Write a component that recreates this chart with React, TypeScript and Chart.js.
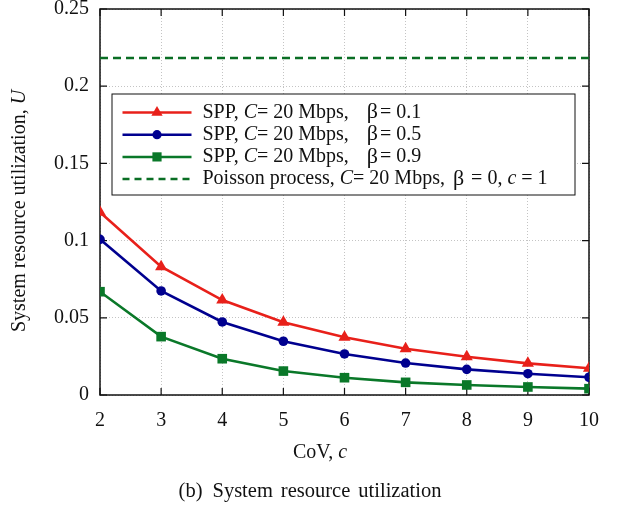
import React, { useEffect, useRef } from 'react';
import { Chart, registerables } from 'chart.js';

Chart.register(...registerables);

// ---------- data ----------
const covValues = [2, 3, 4, 5, 6, 7, 8, 9, 10];
const sppBeta01 = [0.1183, 0.0831, 0.0615, 0.0471, 0.0374, 0.03, 0.0248, 0.0205, 0.0173];
const sppBeta05 = [0.1008, 0.0674, 0.0473, 0.0348, 0.0266, 0.0207, 0.0166, 0.0138, 0.0115];
const sppBeta09 = [0.0669, 0.0378, 0.0235, 0.0155, 0.0112, 0.0082, 0.0065, 0.0052, 0.0041];
const poissonValue = 0.2183;
const xTickValues = [2, 3, 4, 5, 6, 7, 8, 9, 10];
const yTickValues = [0, 0.05, 0.1, 0.15, 0.2, 0.25];
const yTickLabels = ['0', '0.05', '0.1', '0.15', '0.2', '0.25'];
const captionWords = ['(b)', 'System', 'resource', 'utilization'];

const seriesLabels = [
  { pre: 'SPP, ', post: '= 20 Mbps,', beta: '= 0.1', tail: '', gap: 18 },
  { pre: 'SPP, ', post: '= 20 Mbps,', beta: '= 0.5', tail: '', gap: 18 },
  { pre: 'SPP, ', post: '= 20 Mbps,', beta: '= 0.9', tail: '', gap: 18 },
  { pre: 'Poisson process, ', post: '= 20 Mbps,', beta: ' = 0, ', tail: 'c', gap: 8 },
];

const RED = '#e8201a';
const BLUE = '#00008f';
const GREEN = '#0a7829';
const DGREEN = '#0a6e24';
const FONT = '"Liberation Serif", "Times New Roman", serif';
const FS = 20;

type Seg = [string, boolean];

function segWidth(ctx: CanvasRenderingContext2D, segs: Seg[], size: number) {
  let w = 0;
  for (const [t, it] of segs) {
    ctx.font = `${it ? 'italic ' : ''}${size}px ${FONT}`;
    w += ctx.measureText(t).width;
  }
  return w;
}

function drawRich(ctx: CanvasRenderingContext2D, segs: Seg[], x: number, y: number, size: number, center: boolean) {
  let cx = center ? x - segWidth(ctx, segs, size) / 2 : x;
  ctx.textAlign = 'left';
  ctx.textBaseline = 'middle';
  ctx.fillStyle = '#111';
  for (const [t, it] of segs) {
    ctx.font = `${it ? 'italic ' : ''}${size}px ${FONT}`;
    ctx.fillText(t, cx, y);
    cx += ctx.measureText(t).width;
  }
  return cx;
}

function drawMarker(ctx: CanvasRenderingContext2D, style: string, x: number, y: number, color: string) {
  ctx.fillStyle = color;
  ctx.beginPath();
  if (style === 'triangle') {
    const r = 6.5;
    ctx.moveTo(x, y - r);
    ctx.lineTo(x + r * 0.866, y + r * 0.5);
    ctx.lineTo(x - r * 0.866, y + r * 0.5);
    ctx.closePath();
  } else if (style === 'circle') {
    ctx.arc(x, y, 4.6, 0, Math.PI * 2);
  } else if (style === 'rect') {
    ctx.rect(x - 4.6, y - 4.6, 9.2, 9.2);
  }
  ctx.fill();
}

const framePlugin = {
  id: 'frame',
  beforeDatasetsDraw(chart: any) {
    const { ctx, chartArea: a, scales } = chart;
    ctx.save();
    ctx.strokeStyle = '#111';
    ctx.lineWidth = 1.5;
    ctx.strokeRect(a.left, a.top, a.right - a.left, a.bottom - a.top);
    ctx.lineWidth = 1.2;
    const tl = 7;
    ctx.beginPath();
    for (const v of xTickValues) {
      const px = scales.x.getPixelForValue(v);
      ctx.moveTo(px, a.bottom);
      ctx.lineTo(px, a.bottom - tl);
      ctx.moveTo(px, a.top);
      ctx.lineTo(px, a.top + tl);
    }
    for (const v of yTickValues) {
      const py = scales.y.getPixelForValue(v);
      ctx.moveTo(a.left, py);
      ctx.lineTo(a.left + tl, py);
      ctx.moveTo(a.right, py);
      ctx.lineTo(a.right - tl, py);
    }
    ctx.stroke();
    ctx.restore();
  },
  afterDatasetsDraw(chart: any) {
    const { ctx, chartArea: a } = chart;
    ctx.save();
    // legend box
    const bx = a.left + 12;
    const by = a.top + 85;
    const bw = 463;
    const bh = 101;
    ctx.fillStyle = '#fff';
    ctx.fillRect(bx, by, bw, bh);
    ctx.strokeStyle = '#111';
    ctx.lineWidth = 1;
    ctx.strokeRect(bx, by, bw, bh);
    const styles = ['triangle', 'circle', 'rect', ''];
    const colors = [RED, BLUE, GREEN, DGREEN];
    seriesLabels.forEach((s, i) => {
      const y = by + 18.5 + i * 22.2;
      const x0 = bx + 10.5;
      const x1 = bx + 79.5;
      ctx.strokeStyle = colors[i];
      ctx.lineWidth = 2.5;
      if (i === 3) ctx.setLineDash([7, 5]);
      ctx.beginPath();
      ctx.moveTo(x0, y);
      ctx.lineTo(x1, y);
      ctx.stroke();
      ctx.setLineDash([]);
      if (styles[i]) drawMarker(ctx, styles[i], (x0 + x1) / 2, y, colors[i]);
      let cx = drawRich(ctx, [[s.pre, false], ['C', true], [s.post, false]], bx + 90.5, y, FS, false);
      cx += s.gap;
      cx = drawRich(ctx, [['\u03b2', false]], cx, y, FS + 2, false);
      cx += 2;
      const segs: Seg[] = [[s.beta, false]];
      if (s.tail) {
        segs.push([s.tail, true]);
        segs.push([' = 1', false]);
      }
      drawRich(ctx, segs, cx, y, FS, false);
    });
    ctx.restore();
  },
  afterDraw(chart: any) {
    const { ctx, chartArea: a } = chart;
    ctx.save();
    // y title
    ctx.translate(20, (a.top + a.bottom) / 2 + 9);
    ctx.rotate(-Math.PI / 2);
    drawRich(ctx, [['System resource utilization, ', false], ['U', true]], 0, 0, FS, true);
    ctx.restore();
    ctx.save();
    drawRich(ctx, [['CoV, ', false], ['c', true]], 320, a.bottom + 58, FS, true);
    // caption with wide word spacing
    const gap = 8;
    const cs = 20.5;
    ctx.font = `${cs}px ${FONT}`;
    const ws = captionWords.map((w) => ctx.measureText(w).width);
    const total = ws.reduce((p, q) => p + q, 0) + gap * (captionWords.length - 1);
    let cx = 309 - total / 2;
    captionWords.forEach((w, i) => {
      drawRich(ctx, [[w, false]], cx, a.bottom + 97, cs, false);
      cx += ws[i] + gap + (i === 0 ? 2 : 0);
    });
    ctx.restore();
  },
};

export default function App() {
  const ref = useRef<HTMLCanvasElement | null>(null);
  useEffect(() => {
    if (!ref.current) return;
    const mk = (vals: number[]) => vals.map((y, i) => ({ x: covValues[i], y }));
    const chart = new Chart(ref.current, {
      type: 'line',
      data: {
        datasets: [
          {
            label: 'SPP, C= 20 Mbps, β = 0.1',
            data: mk(sppBeta01),
            borderColor: RED,
            backgroundColor: RED,
            borderWidth: 2.6,
            pointStyle: 'triangle',
            pointRadius: 7,
            pointBorderWidth: 0,
          },
          {
            label: 'SPP, C= 20 Mbps, β = 0.5',
            data: mk(sppBeta05),
            borderColor: BLUE,
            backgroundColor: BLUE,
            borderWidth: 2.6,
            pointStyle: 'circle',
            pointRadius: 4.8,
            pointBorderWidth: 0,
          },
          {
            label: 'SPP, C= 20 Mbps, β = 0.9',
            data: mk(sppBeta09),
            borderColor: GREEN,
            backgroundColor: GREEN,
            borderWidth: 2.6,
            pointStyle: 'rect',
            pointRadius: 6.8,
            pointBorderWidth: 0,
          },
          {
            label: 'Poisson process, C= 20 Mbps, β = 0, c = 1',
            data: [
              { x: covValues[0], y: poissonValue },
              { x: covValues[covValues.length - 1], y: poissonValue },
            ],
            borderColor: DGREEN,
            backgroundColor: DGREEN,
            borderWidth: 2.6,
            borderDash: [8, 5],
            pointRadius: 0,
          },
        ],
      },
      options: {
        responsive: false,
        animation: false,
        devicePixelRatio: 1,
        layout: { padding: { left: 0, right: 29, top: 9, bottom: 0 } },
        plugins: { legend: { display: false }, tooltip: { enabled: false } },
        elements: { line: { tension: 0 } },
        scales: {
          x: {
            type: 'linear',
            min: 2,
            max: 10,
            afterBuildTicks: (s: any) => {
              s.ticks = xTickValues.map((v) => ({ value: v }));
            },
            afterFit: (s: any) => {
              s.height = 112;
              s.paddingLeft = 0;
              s.paddingRight = 0;
            },
            ticks: {
              color: '#111',
              font: { family: FONT, size: FS },
              padding: 14,
              callback: (v: any) => String(v),
              maxRotation: 0,
            },
            grid: { color: '#c4c4c4', lineWidth: 1, drawTicks: false },
            border: { display: false, dash: [1, 2] },
          },
          y: {
            type: 'linear',
            min: 0,
            max: 0.25,
            afterBuildTicks: (s: any) => {
              s.ticks = yTickValues.map((v) => ({ value: v }));
            },
            afterFit: (s: any) => {
              s.width = 100;
              s.paddingTop = 0;
              s.paddingBottom = 0;
            },
            ticks: {
              color: '#111',
              font: { family: FONT, size: FS },
              padding: 11,
              callback: (v: any) => {
                const i = yTickValues.findIndex((t) => Math.abs(t - v) < 1e-9);
                return i >= 0 ? yTickLabels[i] : '';
              },
            },
            grid: { color: '#c4c4c4', lineWidth: 1, drawTicks: false },
            border: { display: false, dash: [1, 2] },
          },
        },
      },
      plugins: [framePlugin],
    });
    return () => chart.destroy();
  }, []);
  return (
    <div style={{ position: 'absolute', left: 0, top: 0, width: 618, height: 507, background: '#fff' }}>
      <canvas ref={ref} width={618} height={507} style={{ display: 'block' }} />
    </div>
  );
}
